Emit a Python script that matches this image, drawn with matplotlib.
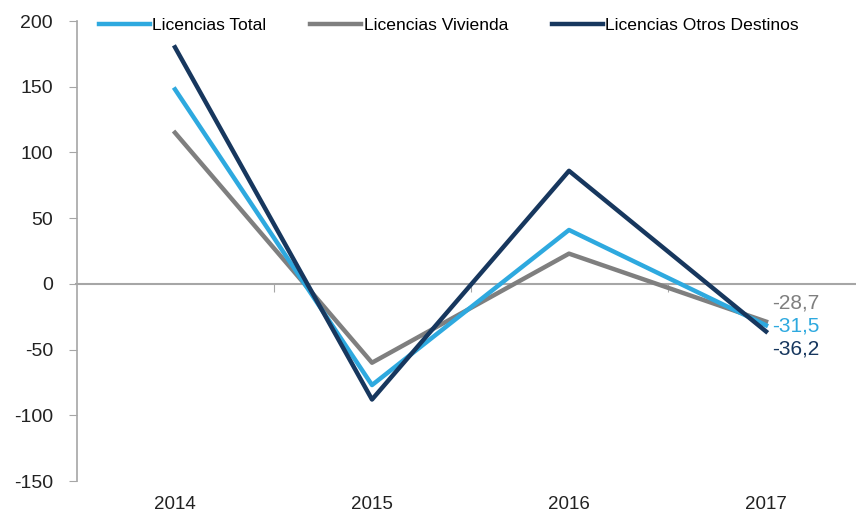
import matplotlib.pyplot as plt

years = ['2014', '2015', '2016', '2017']
total = [148, -77, 41, -31.5]
vivienda = [115, -60, 23, -28.7]
otros = [180, -88, 86, -36.2]

c_total = '#2EA9DF'
c_viv = '#7F7F7F'
c_otros = '#17375E'

plt.rcParams['font.family'] = ['Liberation Sans', 'DejaVu Sans']
plt.rcParams['axes.unicode_minus'] = False

fig = plt.figure(figsize=(8.56, 5.12), dpi=100)
ax = fig.add_axes([76.5 / 856, 31 / 512, 788 / 856, 460 / 512])

x = range(len(years))
ax.plot(x, total, color=c_total, lw=3.2, label='Licencias Total', zorder=3)
ax.plot(x, vivienda, color=c_viv, lw=3.2, label='Licencias Vivienda', zorder=2)
ax.plot(x, otros, color=c_otros, lw=3.2, label='Licencias Otros Destinos', zorder=4)

ax.set_xlim(-0.5, 3.5)
ax.set_ylim(-150, 200)
ax.set_yticks(range(-150, 201, 50))
ax.set_xticks(list(x))
ax.set_xticklabels(years)

for s in ['top', 'right', 'bottom']:
    ax.spines[s].set_visible(False)
ax.spines['left'].set_color('#A6A6A6')
ax.spines['left'].set_linewidth(1.2)
ax.tick_params(axis='y', direction='out', length=6, color='#A6A6A6', pad=11,
               labelsize=14, labelcolor='#222222')
ax.tick_params(axis='x', length=0, pad=11, labelsize=13.5, labelcolor='#222222')

# zero line with category boundary ticks
zero = ax.secondary_xaxis(150 / 350)
zero.set_xticks([0.5, 1.5, 2.5])
zero.set_xticklabels([])
zero.tick_params(direction='out', length=6, color='#A6A6A6')
zero.spines['bottom'].set_color('#A6A6A6')
zero.spines['bottom'].set_linewidth(1.5)

# end value labels
labels = [(vivienda[-1], c_viv, 19), (total[-1], c_total, -1), (otros[-1], c_otros, -18)]
for val, col, dy in labels:
    ax.annotate(f'{val:.1f}'.replace('.', ','), xy=(3, val), xytext=(6, dy),
                textcoords='offset pixels', ha='left', va='center',
                fontsize=15, color=col)

ax.legend(loc='center left', bbox_to_anchor=(99 / 856, 1 - 25 / 512),
          bbox_transform=fig.transFigure, ncol=3, frameon=False,
          fontsize=12.6, handlelength=2.9, handletextpad=0.15, columnspacing=2.5,
          borderpad=0, borderaxespad=0)

fig.savefig('out.png', dpi=100)
